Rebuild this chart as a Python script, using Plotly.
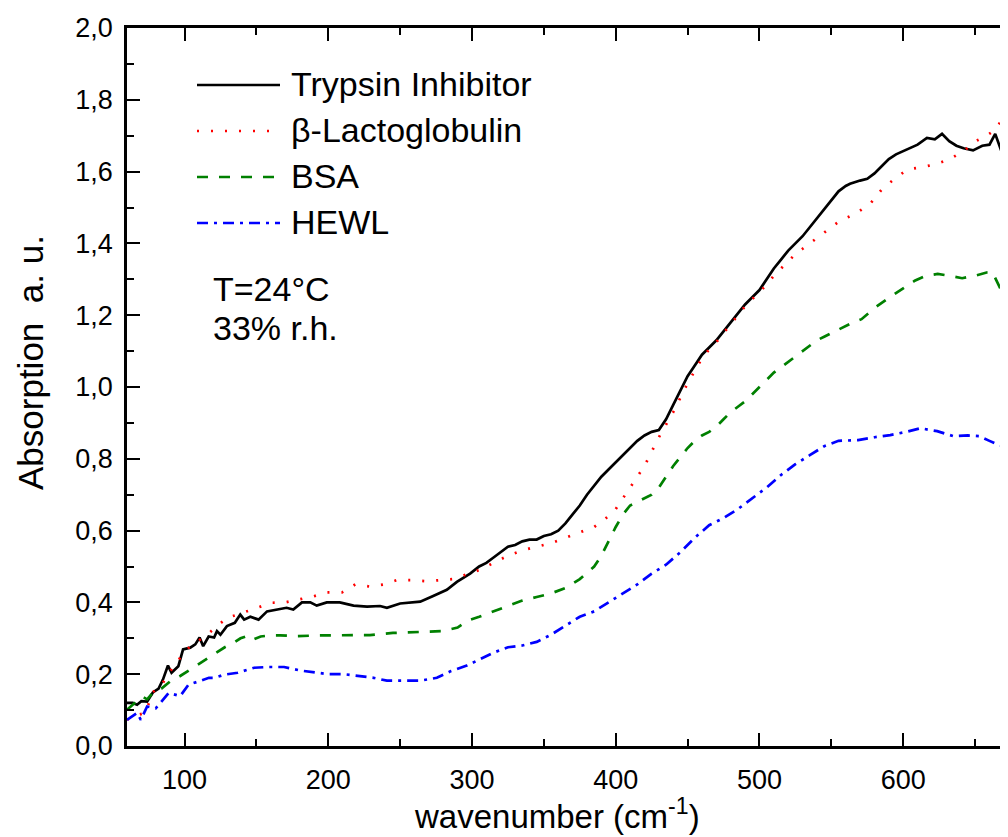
import plotly.graph_objects as go

# ---------------- data ----------------
ti_x = [60, 64, 67, 70, 74, 78, 82, 85, 88.5, 91, 95.7, 99, 104, 107.5, 110.5, 113, 116.8, 120.6, 122.6, 125,
        129.5, 135, 138.8, 141.5, 145.8, 151.5, 157.4, 164, 171, 175.7, 181.7, 187.5, 192, 199, 208, 217.6, 227,
        236, 240.8, 250, 259, 264, 273, 282.5, 289.5, 298.7, 305, 310, 315, 320, 325, 330, 335, 340, 345, 350,
        355, 360, 365, 370, 375, 380, 385, 390, 395, 400, 405, 410, 415, 420, 425, 430, 435, 440, 445, 450, 455,
        460, 465, 470, 475, 480, 485, 490, 495, 500, 505, 510, 515, 520, 525, 530, 535, 540, 545, 550, 555, 560,
        563, 570, 575, 580, 585, 590, 595, 600, 605, 610, 616.5, 622, 627, 632, 637, 642, 648.6, 655, 660, 664,
        669, 673]
ti_y = [0.12, 0.12, 0.115, 0.125, 0.124, 0.149, 0.16, 0.185, 0.224, 0.204, 0.222, 0.269, 0.274, 0.283, 0.302,
        0.278, 0.305, 0.302, 0.320, 0.31, 0.334, 0.343, 0.366, 0.352, 0.36, 0.352, 0.375, 0.38, 0.385, 0.38, 0.40,
        0.40, 0.391, 0.40, 0.40, 0.391, 0.388, 0.39, 0.385, 0.397, 0.40, 0.402, 0.418, 0.435, 0.457, 0.48, 0.50,
        0.51, 0.525, 0.54, 0.555, 0.56, 0.57, 0.575, 0.575, 0.585, 0.59, 0.60, 0.62, 0.645, 0.67, 0.70, 0.725,
        0.75, 0.77, 0.79, 0.81, 0.83, 0.85, 0.865, 0.875, 0.88, 0.91, 0.95, 0.99, 1.03, 1.06, 1.09, 1.11, 1.13,
        1.155, 1.18, 1.205, 1.23, 1.25, 1.27, 1.30, 1.33, 1.355, 1.38, 1.40, 1.42, 1.445, 1.47, 1.495, 1.52,
        1.545, 1.56, 1.566, 1.575, 1.58, 1.595, 1.615, 1.635, 1.648, 1.657, 1.665, 1.675, 1.694, 1.69, 1.705,
        1.685, 1.672, 1.665, 1.659, 1.672, 1.675, 1.705, 1.649, 1.683]

blg_x = [60, 66, 72.7, 78, 84, 90, 97, 104, 114.5, 122.6, 129.5, 136, 143.4, 151.5, 160.8, 170, 180.5, 189.8,
         199, 209.6, 218.8, 229, 238.5, 247.7, 258, 268.6, 277.8, 287, 297.5, 305, 315, 325, 335, 345, 355, 365,
         375, 385, 395, 400, 405, 410, 415, 420, 425, 430, 435, 440, 445, 450, 455, 460, 465, 470, 475, 480, 485,
         490, 495, 500, 505, 510, 515, 520, 525, 530, 535, 540, 545, 550, 555, 560, 566.5, 577, 585, 594, 603,
         614, 623, 632.6, 643, 650, 658, 665, 669, 672]
blg_y = [0.073, 0.085, 0.092, 0.15, 0.17, 0.208, 0.246, 0.278, 0.306, 0.334, 0.357, 0.365, 0.375, 0.385, 0.399,
         0.40, 0.408, 0.417, 0.428, 0.428, 0.45, 0.444, 0.45, 0.462, 0.462, 0.459, 0.462, 0.465, 0.48, 0.49, 0.51,
         0.53, 0.545, 0.555, 0.565, 0.58, 0.595, 0.61, 0.64, 0.66, 0.69, 0.72, 0.75, 0.78, 0.82, 0.86, 0.895,
         0.93, 0.97, 1.01, 1.045, 1.08, 1.105, 1.125, 1.15, 1.175, 1.20, 1.225, 1.245, 1.265, 1.285, 1.31, 1.33,
         1.35, 1.37, 1.385, 1.40, 1.415, 1.43, 1.445, 1.46, 1.47, 1.482, 1.51, 1.55, 1.58, 1.606, 1.613, 1.621,
         1.635, 1.66, 1.684, 1.70, 1.719, 1.75, 1.725]

bsa_x = [60, 64, 70.4, 74, 78.4, 84, 90, 97, 104, 110, 116.8, 122, 128, 134, 139, 144.5, 148, 153, 159.6, 166.6,
         178, 194, 213, 229, 245, 264, 280, 290, 296.4, 305, 315, 325, 335, 345, 355, 365, 375, 385, 390, 395,
         400, 405, 410, 415, 420, 425, 430, 435, 440, 445, 450, 455, 460, 465, 470, 475, 480, 485, 490, 495, 500,
         505, 510, 515, 520, 525, 530, 535, 540, 545, 550, 555, 560, 565, 571, 580, 591, 600, 608, 616, 624, 632,
         641, 650, 658, 662, 667, 671]
bsa_y = [0.101, 0.115, 0.138, 0.13, 0.15, 0.16, 0.18, 0.195, 0.213, 0.23, 0.246, 0.26, 0.275, 0.287, 0.30, 0.308,
         0.297, 0.305, 0.308, 0.308, 0.306, 0.308, 0.309, 0.309, 0.315, 0.317, 0.32, 0.33, 0.348, 0.36, 0.375,
         0.39, 0.405, 0.415, 0.425, 0.44, 0.465, 0.50, 0.53, 0.57, 0.61, 0.645, 0.67, 0.68, 0.69, 0.70, 0.72,
         0.75, 0.78, 0.805, 0.83, 0.85, 0.865, 0.875, 0.89, 0.91, 0.93, 0.945, 0.96, 0.98, 1.00, 1.02, 1.04,
         1.055, 1.07, 1.085, 1.10, 1.115, 1.13, 1.14, 1.15, 1.16, 1.17, 1.18, 1.189, 1.22, 1.251, 1.275, 1.296,
         1.31, 1.315, 1.31, 1.303, 1.31, 1.319, 1.32, 1.279, 1.292]

hewl_x = [60, 67, 69.6, 74, 80, 85, 89, 97, 102.8, 110, 117, 121, 128, 137, 148.5, 157.8, 169.3, 181, 190, 200.4,
          211, 220, 231.5, 240.8, 252, 264, 275.6, 285, 296.4, 305, 315, 325, 335, 345, 355, 365, 375, 385, 395,
          405, 415, 425, 435, 445, 455, 465, 475, 485, 495, 505, 515, 525, 535, 545, 555, 568.6, 580, 591, 602,
          612, 623.6, 635, 645, 653, 660, 665, 672]
hewl_y = [0.073, 0.092, 0.073, 0.11, 0.105, 0.13, 0.148, 0.139, 0.171, 0.18, 0.19, 0.19, 0.199, 0.204, 0.218,
          0.22, 0.22, 0.21, 0.206, 0.20, 0.20, 0.196, 0.19, 0.182, 0.182, 0.182, 0.19, 0.208, 0.224, 0.24, 0.26,
          0.275, 0.28, 0.29, 0.31, 0.335, 0.36, 0.375, 0.40, 0.425, 0.45, 0.48, 0.505, 0.54, 0.58, 0.615, 0.635,
          0.66, 0.69, 0.72, 0.755, 0.785, 0.81, 0.835, 0.85, 0.852, 0.86, 0.866, 0.875, 0.885, 0.877, 0.863,
          0.865, 0.863, 0.85, 0.841, 0.832]

series_names = ["Trypsin Inhibitor", "\u03b2-Lactoglobulin", "BSA", "HEWL"]
series_colors = ["#000000", "#ff0000", "#008000", "#0000ff"]
series_dash = ["solid", "2px,12px", "11px,11px", "11px,6px,3px,6px"]
note_lines = ["T=24\u00b0C", "33% r.h."]

# ---------------- figure ----------------
FONT = "Liberation Sans, Arial, Helvetica, sans-serif"
fig = go.Figure()
for xs, ys, name, col, dash in zip([ti_x, blg_x, bsa_x, hewl_x], [ti_y, blg_y, bsa_y, hewl_y],
                                   series_names, series_colors, series_dash):
    fig.add_trace(go.Scatter(x=xs, y=ys, mode="lines", name=name, showlegend=False,
                             line=dict(color=col, width=2.7, dash=dash)))

# the page body adds an 8 px offset; the figure is sized so that it fills the window exactly
OFF = 8
W, H = 1008 - OFF, 837 - OFF
L, R, T, B = 127 - OFF, 0, 28 - OFF, 837 - 746
pw, ph = W - L - R, H - T - B


def px(x):
    """window pixel x -> paper coordinate"""
    return (x - OFF - L) / pw


def py(y):
    """window pixel y -> paper coordinate"""
    return (H - B - (y - OFF)) / ph


axis_common = dict(showgrid=False, zeroline=False, showline=True, linecolor="black", linewidth=2.5,
                   ticks="inside", ticklen=13, tickwidth=2, tickcolor="black",
                   tickfont=dict(family=FONT, size=27, color="black"))

fig.update_layout(
    width=W, height=H, margin=dict(l=L, r=R, t=T, b=B),
    plot_bgcolor="white", paper_bgcolor="white", separators=",.",
    font=dict(family=FONT, color="black"),
    xaxis=dict(range=[60, 672.9], dtick=100, tick0=0, mirror="ticks",
               minor=dict(dtick=50, tick0=0, ticks="inside", ticklen=7, tickwidth=2, tickcolor="black"),
               ticklabelstandoff=8, **axis_common),
    yaxis=dict(range=[0, 2], dtick=0.2, tick0=0, tickformat=".1f", mirror=False,
               minor=dict(dtick=0.1, tick0=0, ticks="inside", ticklen=7, tickwidth=2, tickcolor="black"),
               ticklabelstandoff=6, **axis_common),
    yaxis2=dict(overlaying="y", side="right", anchor="x", range=[0, 2], dtick=0.2, tick0=0,
                showgrid=False, zeroline=False, showline=False, showticklabels=False,
                ticks="inside", ticklen=4, tickwidth=2, tickcolor="black"),
)

# legend drawn as line samples + labels
leg_y = [85, 131, 177, 223]
for i, (name, col, dash) in enumerate(zip(series_names, series_colors, series_dash)):
    fig.add_shape(type="line", xref="paper", yref="paper", x0=px(197), x1=px(280),
                  y0=py(leg_y[i]), y1=py(leg_y[i]), line=dict(color=col, width=2.7, dash=dash))
    fig.add_annotation(xref="paper", yref="paper", x=px(289), y=py(leg_y[i] - 1), text=name,
                       showarrow=False, xanchor="left", yanchor="middle",
                       font=dict(family=FONT, size=34, color="black"))

note_y = [289, 328]
for t, yy in zip(note_lines, note_y):
    fig.add_annotation(xref="paper", yref="paper", x=px(211), y=py(yy), text=t, showarrow=False,
                       xanchor="left", yanchor="middle", font=dict(family=FONT, size=34, color="black"))

# axis titles
fig.add_annotation(xref="paper", yref="paper", x=px(557), y=py(814),
                   text="wavenumber (cm<sup>-1</sup>)", showarrow=False, xanchor="center", yanchor="middle",
                   font=dict(family=FONT, size=33, color="black"))
fig.add_annotation(xref="paper", yref="paper", x=px(31), y=py(363),
                   text="Absorption  a. u.", showarrow=False, textangle=-90, xanchor="center",
                   yanchor="middle", font=dict(family=FONT, size=35, color="black"))

fig.write_html("out.html")
